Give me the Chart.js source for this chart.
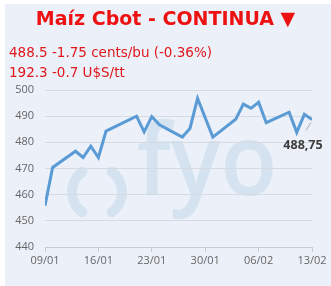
<!DOCTYPE html>
<html>
<head>
<meta charset="utf-8">
<script src="https://cdn.jsdelivr.net/npm/chart.js@4/dist/chart.umd.min.js"></script>
<style>
  html, body { margin: 0; padding: 0; background: #ffffff; width: 331px; height: 286px; overflow: hidden; }
  #panel { position: absolute; left: 5px; top: 4px; width: 326px; height: 282px; background: #ebf0f9; }
  #title { position: absolute; left: 0; top: 7px; width: 331px; text-align: center; font-family: "DejaVu Sans", sans-serif; font-weight: bold; font-size: 19px; color: #ee1111; white-space: nowrap; }
  .sub { position: absolute; left: 9px; font-family: "DejaVu Sans", sans-serif; font-size: 13.5px; color: #e0161b; white-space: nowrap; }
  #sub1 { top: 44px; }
  #sub2 { top: 64px; }
  #wrap { position: absolute; left: 0; top: 0; width: 331px; height: 286px; }
</style>
</head>
<body>
<div id="panel"></div>
<div id="wrap"><canvas id="c" width="331" height="286"></canvas></div>
<div id="title">Maíz Cbot - CONTINUA ▼</div>
<div class="sub" id="sub1">488.5 -1.75 cents/bu (-0.36%)</div>
<div class="sub" id="sub2">192.3 -0.7 U$S/tt</div>
<script>
// ---- data ----
const dates = ['09/01','10/01','13/01','14/01','15/01','16/01','17/01','21/01','22/01','23/01','24/01','27/01','28/01','29/01','31/01','03/02','04/02','05/02','06/02','07/02','10/02','11/02','12/02','13/02'];
const prices = [455.8, 470.4, 476.6, 474.2, 478.5, 474.2, 484.3, 490.0, 484.0, 489.8, 486.7, 482.0, 485.3, 496.8, 482.0, 488.8, 494.6, 493.0, 495.3, 487.5, 491.5, 483.8, 490.7, 488.75];
const xTickLabels = ['09/01','16/01','23/01','30/01','06/02','13/02'];
const yTicks = [440, 450, 460, 470, 480, 490, 500];
const year = 2025;

// day offset from first date
function toDay(s) {
  const [d, m] = s.split('/').map(Number);
  return Date.UTC(year, m - 1, d) / 86400000;
}
const day0 = toDay(dates[0]);
const points = dates.map((d, i) => ({ x: toDay(d) - day0, y: prices[i] }));
const xTickDays = xTickLabels.map(s => toDay(s) - day0);

const watermark = {
  id: 'watermark',
  beforeDraw(chart) {
    const ctx = chart.ctx;
    ctx.save();
    ctx.strokeStyle = '#d4e3ef';
    ctx.fillStyle = '#d4e3ef';
    ctx.lineWidth = 10;
    ctx.lineCap = 'round';
    const cx = 97, cy = 192, r = 25;
    ctx.beginPath();
    ctx.arc(cx, cy, r, Math.PI - 0.95, Math.PI + 0.95);
    ctx.stroke();
    ctx.beginPath();
    ctx.arc(cx, cy, r, -0.95, 0.95);
    ctx.stroke();
    ctx.font = '600 100px "Open Sans"';
    ctx.textBaseline = 'alphabetic';
    ctx.textAlign = 'left';
    ctx.translate(137, 195);
    ctx.scale(0.93, 1);
    ctx.fillText('fyo', 0, 0);
    ctx.restore();
  }
};

const lastLabel = {
  id: 'lastLabel',
  afterDatasetsDraw(chart) {
    const meta = chart.getDatasetMeta(0);
    const el = meta.data[meta.data.length - 1];
    const ctx = chart.ctx;
    ctx.save();
    ctx.strokeStyle = '#a8a8a8';
    ctx.lineWidth = 1;
    ctx.beginPath();
    ctx.moveTo(el.x - 1, el.y + 3);
    ctx.lineTo(el.x - 6, el.y + 11);
    ctx.stroke();
    ctx.fillStyle = '#3c3c3c';
    ctx.font = 'bold 12.5px "Open Sans"';
    ctx.textAlign = 'center';
    ctx.textBaseline = 'middle';
    const v = prices[prices.length - 1].toFixed(2).replace('.', ',');
    ctx.fillText(v, el.x - 9, el.y + 26);
    ctx.restore();
  }
};

new Chart(document.getElementById('c'), {
  type: 'line',
  data: {
    datasets: [{
      data: points,
      borderColor: '#5b9bd5',
      borderWidth: 3,
      borderJoinStyle: 'miter',
      pointRadius: 0,
      tension: 0,
      fill: false
    }]
  },
  options: {
    responsive: false,
    animation: false,
    devicePixelRatio: 1,
    layout: { padding: { left: 0, right: 19, top: 90, bottom: 0 } },
    plugins: { legend: { display: false }, tooltip: { enabled: false }, title: { display: false } },
    scales: {
      x: {
        type: 'linear',
        min: 0,
        max: xTickDays[xTickDays.length - 1],
        afterBuildTicks(scale) { scale.ticks = xTickDays.map(v => ({ value: v })); },
        afterFit(scale) { scale.height = 39; },
        ticks: {
          callback(v) { const i = xTickDays.indexOf(v); return i >= 0 ? xTickLabels[i] : ''; },
          font: { family: 'Open Sans', size: 11 },
          color: '#666666',
          padding: 2,
          maxRotation: 0,
          autoSkip: false
        },
        grid: { drawOnChartArea: false, drawTicks: true, tickLength: 5, color: '#c8ccd2' },
        border: { display: true, color: '#c8ccd2' }
      },
      y: {
        min: yTicks[0],
        max: yTicks[yTicks.length - 1],
        afterBuildTicks(scale) { scale.ticks = yTicks.map(v => ({ value: v })); },
        afterFit(scale) { scale.width = 45; },
        ticks: {
          font: { family: 'Open Sans', size: 11 },
          color: '#666666',
          padding: 11
        },
        grid: { color: '#d6dbe2', drawTicks: false, lineWidth: 1 },
        border: { display: false }
      }
    }
  },
  plugins: [watermark, lastLabel]
});
</script>
</body>
</html>
